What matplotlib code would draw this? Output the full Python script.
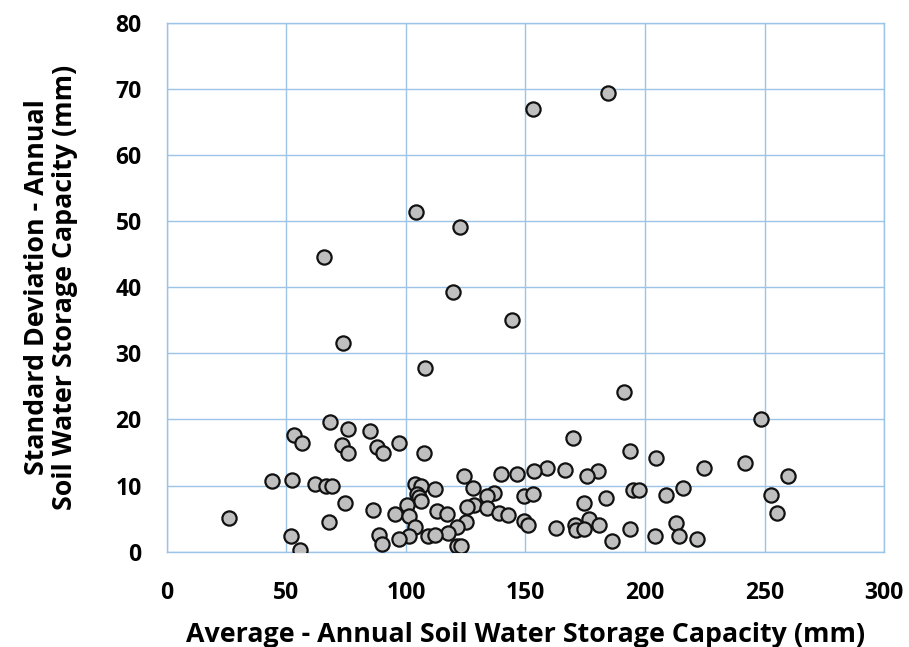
import matplotlib
matplotlib.use("Agg")
import matplotlib.pyplot as plt

# average annual soil water storage capacity (mm) and its standard deviation (mm)
avg_swsc = [
    184.3, 153.1, 104.1, 122.8, 65.6, 119.6, 144.3, 73.7, 107.8, 191.1, 248.3,
    68.2, 75.8, 53.2, 84.9, 170.0, 56.4, 73.3, 88.1, 90.6, 97.1, 107.7, 75.8, 193.5, 204.7,
    241.8, 224.5, 158.9, 166.6, 153.7, 180.3, 139.6, 146.3, 124.3, 175.6, 259.7,
    44.0, 52.2, 61.9, 66.6, 69.1, 103.8, 106.3, 112.2, 128.0, 215.7,
    104.8, 105.5, 106.2, 136.8, 133.8, 149.4, 153.3, 195.1, 197.4, 183.7, 208.9, 252.8,
    174.5, 74.7, 100.3, 128.6, 125.4, 133.8, 86.2, 112.9, 117.1, 139.1, 142.8, 95.4,
    101.5, 255.1, 26.2, 176.7,
    149.4, 151.2, 67.9, 125.1, 103.8, 121.5, 170.7, 171.1, 174.5, 180.9, 162.8, 193.6,
    212.9, 117.7, 51.8, 88.6, 101.4, 109.4, 112.2, 204.3, 214.3, 97.1, 221.6, 186.0,
    90.0, 121.2, 122.9, 55.9,
]
std_swsc = [
    69.4, 66.9, 51.3, 49.1, 44.5, 39.3, 35.0, 31.5, 27.8, 24.2, 20.0,
    19.6, 18.6, 17.6, 18.2, 17.2, 16.4, 16.2, 15.9, 15.0, 16.4, 14.9, 15.0, 15.2, 14.2,
    13.4, 12.6, 12.7, 12.3, 12.2, 12.2, 11.7, 11.7, 11.4, 11.4, 11.4,
    10.7, 10.9, 10.2, 9.9, 9.9, 10.2, 10.0, 9.5, 9.7, 9.7,
    8.8, 8.3, 7.6, 8.9, 8.4, 8.4, 8.8, 9.3, 9.3, 8.1, 8.5, 8.5,
    7.4, 7.3, 7.1, 7.0, 6.7, 6.6, 6.3, 6.2, 5.7, 5.9, 5.5, 5.7,
    5.4, 5.8, 5.1, 5.0,
    4.7, 4.1, 4.5, 4.5, 3.8, 3.7, 4.1, 3.3, 3.5, 4.1, 3.6, 3.5,
    4.3, 2.9, 2.3, 2.6, 2.3, 2.3, 2.5, 2.4, 2.4, 1.9, 1.9, 1.6,
    1.1, 0.9, 0.9, 0.3,
]

x_ticks = [0, 50, 100, 150, 200, 250, 300]
y_ticks = [0, 10, 20, 30, 40, 50, 60, 70, 80]

plt.rcParams['font.family'] = ['Open Sans', 'DejaVu Sans']
grid_col = '#9DC3E6'

fig = plt.figure(figsize=(9.09, 6.47), dpi=100)
ax = fig.add_axes([0.1834, 0.1473, 0.7894, 0.8176])

ax.scatter(avg_swsc, std_swsc, s=105, facecolor='#BFBFBF', edgecolor='#111111',
           linewidth=1.6, zorder=3)

ax.set_xlim(0, 300)
ax.set_ylim(0, 80)
ax.set_xticks(x_ticks)
ax.set_yticks(y_ticks)
ax.grid(True, color=grid_col, linewidth=1.0, zorder=0)
for sp in ax.spines.values():
    sp.set_color(grid_col)
    sp.set_linewidth(1.0)
ax.tick_params(length=0, labelsize=16.5, pad=18)
ax.tick_params(axis='x', pad=21)
for lbl in ax.get_xticklabels() + ax.get_yticklabels():
    lbl.set_fontweight('bold')

ax.set_xlabel('Average - Annual Soil Water Storage Capacity (mm)',
              fontsize=19.3, fontweight='bold', labelpad=12)
ax.set_ylabel('Standard Deviation - Annual\nSoil Water Storage Capacity (mm)',
              fontsize=19.3, fontweight='bold', labelpad=27, linespacing=1.1)

fig.savefig('out.png', dpi=100)
